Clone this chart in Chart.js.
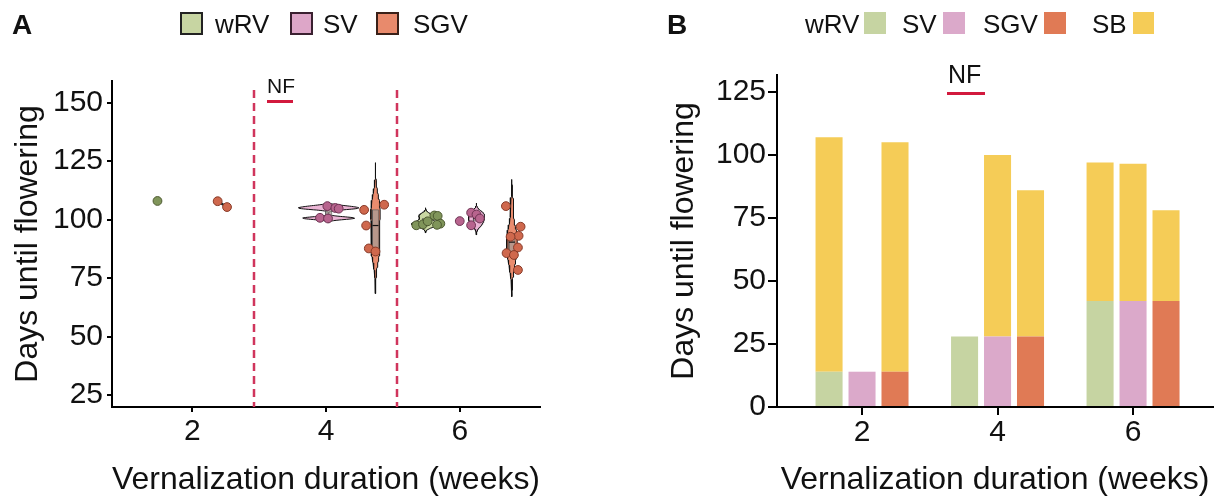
<!DOCTYPE html>
<html><head><meta charset="utf-8">
<script src="https://cdn.jsdelivr.net/npm/chart.js@4/dist/chart.umd.min.js"></script>
<style>
body{margin:0;background:#fff;width:1221px;height:499px;overflow:hidden;position:relative;font-family:"Liberation Sans",Arial,Helvetica,sans-serif;}
#wa{position:absolute;left:0;top:0;width:600px;height:499px}
#wb{position:absolute;left:640px;top:0;width:581px;height:499px}
.t{position:absolute;white-space:nowrap;line-height:1;color:#111}
.sw{position:absolute;box-sizing:border-box}
.ln{position:absolute;background:#d2193d}
</style></head><body>
<div id="wa"><canvas id="ca"></canvas></div>
<div id="wb"><canvas id="cb"></canvas></div>
<script>
// ---------------- DATA ----------------
// Panel A: days until flowering per plant; x = plotted position (weeks, dodged/jittered as read)
const xTicksA = [2, 4, 6];
const yTicksA = [25, 50, 75, 100, 125, 150];
const wrv2Days = [108.0];            const wrv2X = [1.48];
const sgv2Days = [107.9, 105.4];     const sgv2X = [2.38, 2.52];
const sv4Days  = [105.8, 105.0, 104.7, 100.8, 100.5];  const sv4X  = [4.02, 4.14, 4.19, 3.91, 4.03];
const sgv4Days = [104.2, 106.4, 97.5, 87.7, 86.4];     const sgv4X = [4.57, 4.87, 4.60, 4.64, 4.74];
const wrv6Days = [97.6, 98.0, 99.3, 101.8, 101.6, 98.3, 97.8]; const wrv6X = [5.35, 5.45, 5.52, 5.62, 5.67, 5.71, 5.66];
const sv6Days  = [99.4, 103.0, 97.6, 102.2, 100.5];    const sv6X  = [6.00, 6.17, 6.17, 6.25, 6.30];
const sgv6Days = [105.8, 97.0, 93.1, 92.7, 88.1, 85.7, 84.9, 78.5]; const sgv6X = [6.69, 6.91, 6.88, 6.76, 6.87, 6.70, 6.81, 6.87];
const violinCenter = {sv4: 4.04, sgv4: 4.74, wrv6: 5.49, sv6: 6.25, sgv6: 6.78};
const separatorsX = [2.93, 5.06];

// Panel B: stacked days (base vernalization + SB)
const weeksB  = [2, 4, 6];
const yTicksB = [0, 25, 50, 75, 100, 125];
const baseWRV = [14, 28, 42];
const baseSV  = [14, 28, 42];
const baseSGV = [14, 28, 42];
const sbWRV = [93, null, 55];
const sbSV  = [null, 72, 54.5];
const sbSGV = [91, 58, 36];

// ---------------- STYLE ----------------
const FONT = '"Liberation Sans", Arial, Helvetica, sans-serif';
const col = {
  wrv: {pt: '#80955a', ptB: '#4d5a31', fill: '#cad8a3', bar: '#c6d4a2', box: '#c7d5a2', boxB: '#222'},
  sv:  {pt: '#b8648e', ptB: '#6e3353', fill: '#ebb5d5', bar: '#dba9ca', box: '#dda6c8', boxB: '#3a2030'},
  sgv: {pt: '#cf684d', ptB: '#873a28', fill: '#ea8c6e', bar: '#e07a55', box: '#e88a6c', boxB: '#3a2018'},
  sb:  {bar: '#f5cc57'}
};
const violinStyle = {
  sv4:  {adjust: 0.35, halfW: 0.45, c: 'sv'},
  sgv4: {adjust: 1.0,  halfW: 0.07, c: 'sgv'},
  wrv6: {adjust: 1.0,  halfW: 0.21, c: 'wrv'},
  sv6:  {adjust: 1.0,  halfW: 0.12, c: 'sv'},
  sgv6: {adjust: 1.0,  halfW: 0.08, c: 'sgv'}
};
const boxHalfW = 0.045;

// ---------------- HELPERS ----------------
function quantile(s, p){ const h=(s.length-1)*p, lo=Math.floor(h); const hi=Math.min(lo+1,s.length-1); return s[lo]+(h-lo)*(s[hi]-s[lo]); }
function nrd0(v){
  const n=v.length, m=v.reduce((a,b)=>a+b,0)/n;
  const sd=Math.sqrt(v.reduce((a,b)=>a+(b-m)*(b-m),0)/(n-1));
  const s=[...v].sort((a,b)=>a-b);
  let lo=Math.min(sd,(quantile(s,.75)-quantile(s,.25))/1.34);
  if(!(lo>0)) lo=sd||1;
  return 0.9*lo*Math.pow(n,-0.2);
}
function violinPoly(values, cx, st){
  const bw=nrd0(values)*st.adjust;
  const lo=Math.min(...values)-3*bw, hi=Math.max(...values)+3*bw, N=90;
  const ys=[], ds=[];
  for(let i=0;i<=N;i++){ const y=lo+(hi-lo)*i/N; let d=0; values.forEach(v=>{const z=(y-v)/bw; d+=Math.exp(-0.5*z*z);}); ys.push(y); ds.push(d); }
  const mx=Math.max(...ds);
  const right=ys.map((y,i)=>({x:cx+ds[i]/mx*st.halfW,y}));
  const left=ys.map((y,i)=>({x:cx-ds[i]/mx*st.halfW,y})).reverse();
  return right.concat(left,[right[0]]);
}
function boxParts(values, cx){
  const s=[...values].sort((a,b)=>a-b);
  const q1=quantile(s,.25), md=quantile(s,.5), q3=quantile(s,.75);
  return {
    box:[{x:cx-boxHalfW,y:q1},{x:cx+boxHalfW,y:q1},{x:cx+boxHalfW,y:q3},{x:cx-boxHalfW,y:q3},{x:cx-boxHalfW,y:q1}],
    med:[{x:cx-boxHalfW,y:md},{x:cx+boxHalfW,y:md}]
  };
}
const pts=(xs,ys)=>ys.map((y,i)=>({x:xs[i],y}));
function pointDs(xs,ys,c){ return {type:'scatter', data:pts(xs,ys), backgroundColor:col[c].pt, borderColor:col[c].ptB, borderWidth:1, pointRadius:4.4, showLine:false}; }

// ---------------- PANEL A ----------------
const groups = {sv4: sv4Days, sgv4: sgv4Days, wrv6: wrv6Days, sv6: sv6Days, sgv6: sgv6Days};
const dsA = [
  pointDs(wrv2X, wrv2Days, 'wrv'), pointDs(sgv2X, sgv2Days, 'sgv'),
  pointDs(sv4X, sv4Days, 'sv'), pointDs(sgv4X, sgv4Days, 'sgv'),
  pointDs(wrv6X, wrv6Days, 'wrv'), pointDs(sv6X, sv6Days, 'sv'), pointDs(sgv6X, sgv6Days, 'sgv')
];
// short dark segment joining the two SGV points at 2 weeks
dsA.push({type:'line', data:pts(sgv2X, sgv2Days), borderColor:'#222', borderWidth:2.5, pointRadius:0, fill:false, tension:0});
const meds=[], boxes=[], viols=[];
Object.keys(groups).forEach(k=>{
  const st=violinStyle[k], cx=violinCenter[k];
  const bp=boxParts(groups[k], cx);
  meds.push({type:'line', data:bp.med, borderColor:'#111', borderWidth:1.2, pointRadius:0, fill:false, tension:0});
  boxes.push({type:'line', data:bp.box, borderColor:'#555', borderWidth:0.6, backgroundColor:'rgba(165,155,150,0.75)', pointRadius:0, fill:'shape', tension:0});
  viols.push({type:'line', data:violinPoly(groups[k], cx, st), borderColor:'#111', borderWidth:1, backgroundColor:col[st.c].fill, pointRadius:0, fill:'shape', tension:0});
});
dsA.push(...meds, ...boxes, ...viols);

const sepPlugin = {
  id:'sep',
  beforeDatasetsDraw(chart){
    const {ctx, chartArea, scales:{x}} = chart;
    ctx.save(); ctx.strokeStyle='#d0355c'; ctx.lineWidth=2.5; ctx.setLineDash([8,5]);
    separatorsX.forEach(v=>{ const px=Math.round(x.getPixelForValue(v)); ctx.beginPath(); ctx.moveTo(px, chartArea.top+9); ctx.lineTo(px, chartArea.bottom); ctx.stroke(); });
    ctx.restore();
  }
};

function axisCommon(tl, pad, size){
  return {
    grid:{display:true, drawOnChartArea:false, drawTicks:true, tickLength:tl, color:'#000', lineWidth:2, offset:false},
    border:{display:true, color:'#000', width:2},
    ticks:{color:'#111', font:{family:FONT, size:size}, padding:pad, maxRotation:0, autoSkip:false}
  };
}

new Chart(document.getElementById('ca'), {
  type:'scatter',
  data:{datasets:dsA},
  plugins:[sepPlugin],
  options:{
    responsive:true, maintainAspectRatio:false, animation:false,
    layout:{padding:{left:6, right:60, top:81, bottom:0}},
    plugins:{legend:{display:false}, tooltip:{enabled:false}},
    scales:{
      x:Object.assign(axisCommon(5,2,30), {type:'linear', min:0.8, max:7.2,
        afterBuildTicks:s=>{s.ticks=xTicksA.map(v=>({value:v}));},
        afterFit:s=>{s.height=92;},
        title:{display:true, text:'Vernalization duration (weeks)', color:'#111', font:{family:FONT, size:32}, padding:{top:0,bottom:0}}}),
      y:Object.assign(axisCommon(5,4,30), {type:'linear', min:19.9, max:159.3,
        afterBuildTicks:s=>{s.ticks=yTicksA.map(v=>({value:v}));},
        afterFit:s=>{s.width=106;},
        title:{display:true, text:'Days until flowering', color:'#111', font:{family:FONT, size:32}, padding:{top:3,bottom:0}}})
    }
  }
});

// ---------------- PANEL B ----------------
const bxy=(arr)=>arr.map((v,i)=>({x:weeksB[i], y:v}));
const barDs=(arr,color,stack)=>({data:bxy(arr), backgroundColor:color, stack:stack, borderWidth:0, categoryPercentage:0.73, barPercentage:0.82});
new Chart(document.getElementById('cb'), {
  type:'bar',
  data:{datasets:[
    barDs(baseWRV, col.wrv.bar, 'wRV'), barDs(sbWRV, col.sb.bar, 'wRV'),
    barDs(baseSV,  col.sv.bar,  'SV'),  barDs(sbSV,  col.sb.bar, 'SV'),
    barDs(baseSGV, col.sgv.bar, 'SGV'), barDs(sbSGV, col.sb.bar, 'SGV')
  ]},
  options:{
    responsive:true, maintainAspectRatio:false, animation:false,
    layout:{padding:{left:20, right:8, top:75, bottom:0}},
    plugins:{legend:{display:false}, tooltip:{enabled:false}},
    scales:{
      x:Object.assign(axisCommon(8,0,30), {type:'linear', min:0.745, max:7.18, offset:false,
        afterBuildTicks:s=>{s.ticks=weeksB.map(v=>({value:v}));},
        afterFit:s=>{s.height=92;},
        title:{display:true, text:'Vernalization duration (weeks)', color:'#111', font:{family:FONT, size:32}, padding:{top:0,bottom:0}}}),
      y:Object.assign(axisCommon(9,2,30), {type:'linear', min:0, max:131.7, stacked:true,
        afterBuildTicks:s=>{s.ticks=yTicksB.map(v=>({value:v}));},
        afterFit:s=>{s.width=117;},
        title:{display:true, text:'Days until flowering', color:'#111', font:{family:FONT, size:32}, padding:{top:5,bottom:0}}})
    }
  }
});

// ---------------- HTML labels / legends ----------------
function txt(s, x, base, fs, bold){
  const d=document.createElement('div'); d.className='t'; d.textContent=s;
  d.style.left=x+'px'; d.style.top=(base-0.85*fs)+'px'; d.style.fontSize=fs+'px';
  if(bold) d.style.fontWeight='bold';
  document.body.appendChild(d);
}
function sw(x,y,w,h,fill,border){
  const d=document.createElement('div'); d.className='sw';
  Object.assign(d.style,{left:x+'px',top:y+'px',width:w+'px',height:h+'px',background:fill,border:border?('2px solid '+border):'none'});
  document.body.appendChild(d);
}
function ln(x,y,w,h){ const d=document.createElement('div'); d.className='ln'; Object.assign(d.style,{left:x+'px',top:y+'px',width:w+'px',height:h+'px'}); document.body.appendChild(d); }

txt('A', 12, 35, 28, true);
sw(180,12,23,23,col.wrv.box,col.wrv.boxB); txt('wRV',215,33,26);
sw(290,12,23,23,col.sv.box,col.sv.boxB);   txt('SV',323,33,26);
sw(376,12,23,23,col.sgv.box,col.sgv.boxB); txt('SGV',413,33,26);
txt('NF', 267, 93, 21); ln(267,100,26,3);

txt('B', 667, 35, 28, true);
txt('wRV',805,33,26); sw(864,12,22,22,col.wrv.bar);
txt('SV',902,33,26);  sw(943,12,22,22,col.sv.bar);
txt('SGV',983,33,26); sw(1044,12,22,22,col.sgv.bar);
txt('SB',1092,33,26); sw(1133,12,21,22,col.sb.bar);
txt('NF', 948, 83, 25); ln(947,92,38,3);
</script>
</body></html>
